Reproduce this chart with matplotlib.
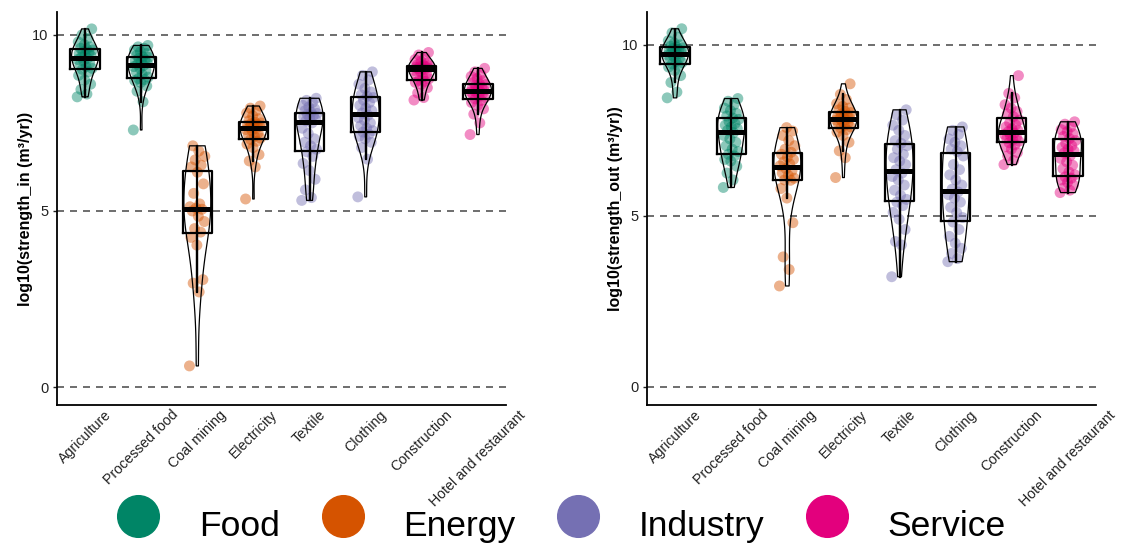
import numpy as np
import matplotlib
matplotlib.use('Agg')
import matplotlib.pyplot as plt
from matplotlib.lines import Line2D

plt.rcParams['font.family'] = ['Liberation Sans', 'DejaVu Sans']

# ---------------- data ----------------
sectors = ['Agriculture', 'Processed food', 'Coal mining', 'Electricity',
           'Textile', 'Clothing', 'Construction', 'Hotel and restaurant']
sector_group = ['Food', 'Food', 'Energy', 'Energy',
                'Industry', 'Industry', 'Service', 'Service']
groups = ['Food', 'Energy', 'Industry', 'Service']
group_colors = ['#008566', '#D55300', '#7570B3', '#E3007D']

# log10(strength_in)
in_agriculture = [8.24, 8.32, 8.45, 8.6, 8.72, 8.85, 8.95, 9.02, 9.05, 9.1, 9.15, 9.2, 9.25, 9.3, 9.33,
                  9.37, 9.4, 9.43, 9.47, 9.5, 9.53, 9.57, 9.6, 9.62, 9.66, 9.72, 9.8, 9.9, 10.0, 10.17]
in_processed_food = [7.3, 8.1, 8.4, 8.55, 8.65, 8.7, 8.73, 8.76, 8.8, 8.88, 8.95, 9.0, 9.05, 9.1, 9.13,
                     9.17, 9.2, 9.24, 9.27, 9.3, 9.33, 9.36, 9.38, 9.42, 9.47, 9.52, 9.57, 9.62, 9.66, 9.7]
in_coal_mining = [0.6, 2.7, 2.95, 3.05, 4.03, 4.25, 4.4, 4.5, 4.7, 4.85, 5.0, 5.05, 5.08, 5.12, 5.2,
                  5.5, 5.77, 6.1, 6.25, 6.3, 6.45, 6.55, 6.7, 6.85]
in_electricity = [5.34, 6.25, 6.42, 6.6, 6.8, 6.9, 6.98, 7.03, 7.07, 7.12, 7.17, 7.22, 7.27, 7.31, 7.34,
                  7.38, 7.4, 7.42, 7.44, 7.46, 7.48, 7.5, 7.52, 7.56, 7.62, 7.7, 7.78, 7.85, 7.92, 7.98]
in_textile = [5.3, 5.38, 5.6, 5.9, 6.15, 6.35, 6.55, 6.68, 6.75, 6.85, 6.95, 7.05, 7.2, 7.35, 7.5,
              7.56, 7.6, 7.64, 7.68, 7.71, 7.74, 7.77, 7.8, 7.85, 7.9, 7.95, 8.0, 8.08, 8.14, 8.2]
in_clothing = [5.4, 6.47, 6.8, 6.95, 7.05, 7.12, 7.18, 7.24, 7.28, 7.35, 7.42, 7.5, 7.58, 7.65, 7.72,
               7.78, 7.85, 7.92, 8.0, 8.08, 8.15, 8.22, 8.26, 8.3, 8.38, 8.48, 8.6, 8.72, 8.85, 8.95]
in_construction = [8.15, 8.22, 8.35, 8.5, 8.6, 8.65, 8.68, 8.71, 8.75, 8.8, 8.85, 8.9, 8.95, 8.99, 9.02,
                   9.04, 9.06, 9.07, 9.08, 9.09, 9.1, 9.12, 9.13, 9.15, 9.2, 9.25, 9.3, 9.36, 9.43, 9.5]
in_hotel = [7.17, 7.5, 7.75, 7.9, 8.0, 8.08, 8.14, 8.18, 8.22, 8.26, 8.3, 8.33, 8.36, 8.38, 8.39,
            8.41, 8.43, 8.45, 8.48, 8.52, 8.56, 8.59, 8.61, 8.65, 8.7, 8.76, 8.82, 8.88, 8.95, 9.05]

# log10(strength_out)
out_agriculture = [8.45, 8.62, 8.9, 9.1, 9.25, 9.35, 9.4, 9.44, 9.48, 9.52, 9.57, 9.62, 9.66, 9.7, 9.73,
                   9.76, 9.78, 9.8, 9.83, 9.86, 9.89, 9.91, 9.93, 9.96, 10.0, 10.05, 10.12, 10.22, 10.35, 10.47]
out_processed_food = [5.83, 6.05, 6.25, 6.45, 6.6, 6.65, 6.75, 6.8, 6.88, 6.95, 7.05, 7.15, 7.25, 7.35, 7.43,
                      7.5, 7.55, 7.6, 7.65, 7.7, 7.76, 7.82, 7.86, 7.92, 8.0, 8.08, 8.15, 8.25, 8.35, 8.43]
out_coal_mining = [2.95, 3.43, 3.8, 4.8, 5.52, 5.8, 6.04, 6.05, 6.1, 6.18, 6.25, 6.32, 6.38, 6.46, 6.52,
                   6.58, 6.65, 6.72, 6.8, 6.86, 6.95, 7.05, 7.2, 7.35, 7.48, 7.58]
out_electricity = [6.12, 6.7, 6.9, 7.15, 7.35, 7.45, 7.52, 7.57, 7.6, 7.64, 7.68, 7.72, 7.76, 7.8, 7.82,
                   7.84, 7.86, 7.88, 7.9, 7.94, 7.98, 8.02, 8.06, 8.1, 8.15, 8.2, 8.28, 8.4, 8.55, 8.86]
out_textile = [3.22, 4.15, 4.25, 4.6, 4.9, 5.1, 5.3, 5.4, 5.48, 5.6, 5.75, 5.9, 6.05, 6.15, 6.25,
               6.35, 6.5, 6.6, 6.7, 6.8, 6.95, 7.05, 7.12, 7.2, 7.35, 7.5, 7.65, 7.8, 7.95, 8.1]
out_clothing = [3.66, 3.75, 3.9, 4.05, 4.2, 4.4, 4.6, 4.82, 4.95, 5.1, 5.25, 5.4, 5.52, 5.62, 5.7,
                5.78, 5.9, 6.05, 6.2, 6.35, 6.5, 6.75, 6.88, 6.95, 7.05, 7.15, 7.25, 7.38, 7.5, 7.6]
out_construction = [6.5, 6.62, 6.75, 6.85, 6.95, 7.02, 7.08, 7.14, 7.18, 7.22, 7.26, 7.3, 7.34, 7.38, 7.42,
                    7.46, 7.5, 7.55, 7.6, 7.66, 7.72, 7.8, 7.9, 7.98, 8.05, 8.15, 8.25, 8.45, 8.58, 9.1]
out_hotel = [5.68, 5.75, 5.82, 5.9, 5.98, 6.05, 6.1, 6.14, 6.2, 6.28, 6.38, 6.48, 6.58, 6.68, 6.76,
             6.84, 6.9, 6.95, 7.0, 7.05, 7.12, 7.2, 7.26, 7.32, 7.4, 7.46, 7.52, 7.6, 7.68, 7.75]

strength_in = [in_agriculture, in_processed_food, in_coal_mining, in_electricity,
               in_textile, in_clothing, in_construction, in_hotel]
strength_out = [out_agriculture, out_processed_food, out_coal_mining, out_electricity,
                out_textile, out_clothing, out_construction, out_hotel]

yticks = [0, 5, 10]

# ---------------- plotting ----------------
W, H = 1121, 548
fig = plt.figure(figsize=(W / 100, H / 100), dpi=100)

color_of = dict(zip(groups, group_colors))


def draw_panel(ax, data, ylabel, ylim):
    pos = np.arange(len(sectors))
    for y in yticks:
        ax.axhline(y, color='#555555', lw=1.2, ls=(0, (4.2, 3.6)), zorder=0)
    for i, vals in enumerate(data):
        vals = np.asarray(vals)
        jit = ((np.arange(len(vals)) * 0.618034) % 1.0 - 0.5) * 0.28
        ax.scatter(pos[i] + jit, vals, s=62, color=color_of[sector_group[i]],
                   alpha=0.45, edgecolors='none', zorder=1)
    vp = ax.violinplot(data, positions=pos, widths=0.48, showextrema=False,
                       bw_method=0.6)
    for body in vp['bodies']:
        body.set_facecolor('none')
        body.set_edgecolor('black')
        body.set_linewidth(0.9)
        body.set_alpha(1)
        body.set_zorder(2)
    bp = ax.boxplot(data, positions=pos, widths=0.52, whis=1.5, showfliers=False,
                    showcaps=False, manage_ticks=False,
                    boxprops=dict(color='black', lw=1.6),
                    medianprops=dict(color='black', lw=3.6),
                    whiskerprops=dict(color='black', lw=1.6))
    for k in ['boxes', 'medians', 'whiskers']:
        for a in bp[k]:
            a.set_zorder(3)
    for i in range(len(data)):
        lo = bp['whiskers'][2 * i].get_ydata()[1]
        hi = bp['whiskers'][2 * i + 1].get_ydata()[1]
        ax.vlines(pos[i], lo, hi, color='black', lw=1.6, zorder=3)

    ax.set_xlim(-0.5, len(sectors) - 0.5)
    ax.set_ylim(*ylim)
    ax.set_yticks(yticks)
    ax.set_xticks(pos)
    ax.set_xticklabels(sectors, rotation=45, ha='center', va='top',
                       fontsize=10.2, color='#222222')
    ax.tick_params(axis='x', length=0, pad=2)
    ax.tick_params(axis='y', length=3, width=1, pad=3, labelsize=10.5,
                   labelcolor='#222222', color='#222222')
    for s in ['top', 'right']:
        ax.spines[s].set_visible(False)
    for s in ['left', 'bottom']:
        ax.spines[s].set_linewidth(1.3)
        ax.spines[s].set_color('black')
    ax.set_ylabel(ylabel, fontsize=11.5, fontweight='bold', color='black')
    ax.yaxis.set_label_coords(-0.053, 0.5)


ax1 = fig.add_axes([57 / W, 1 - 405 / H, 449 / W, 393 / H])
ax2 = fig.add_axes([647 / W, 1 - 405 / H, 449 / W, 393 / H])
draw_panel(ax1, strength_in, 'log10(strength_in (m\u00b3/yr))', (-0.51, 10.65))
draw_panel(ax2, strength_out, 'log10(strength_out (m\u00b3/yr))', (-0.53, 10.96))

handles = [Line2D([], [], marker='o', ls='', markersize=30, color=c) for c in group_colors]
fig.legend(handles, groups, loc='center', bbox_to_anchor=(561 / W, 1 - 525 / H),
           ncol=4, frameon=False, fontsize=25.5, handlelength=1.25, handleheight=2.1,
           handletextpad=1.08, columnspacing=1.15, borderpad=0, borderaxespad=0)

fig.savefig('out.png', dpi=100)
